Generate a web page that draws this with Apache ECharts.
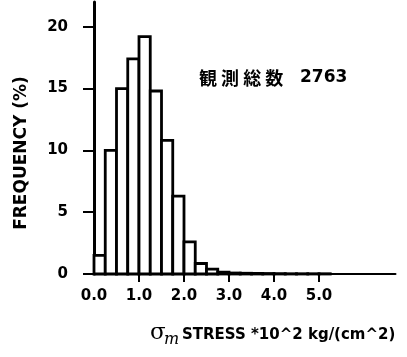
<!DOCTYPE html>
<html>
<head>
<meta charset="utf-8">
<script src="https://cdn.jsdelivr.net/npm/echarts@6/dist/echarts.min.js"></script>
<style>
html,body{margin:0;padding:0;background:#fff;}
#chart{width:407px;height:357px;}
</style>
</head>
<body>
<div id="chart"></div>
<script>
// Histogram bins (stress, *10^2 kg/cm^2)
const binStart = [0.00, 0.25, 0.50, 0.75, 1.00, 1.25, 1.50, 1.75, 2.00, 2.25, 2.50, 2.75, 3.00, 3.25, 3.50, 3.75, 4.00, 4.25, 4.50, 4.75, 5.00];
const binEnd   = [0.25, 0.50, 0.75, 1.00, 1.25, 1.50, 1.75, 2.00, 2.25, 2.50, 2.75, 3.00, 3.25, 3.50, 3.75, 4.00, 4.25, 4.50, 4.75, 5.00, 5.25];
// Frequency (%)
const frequency = [1.5, 10.0, 15.0, 17.4, 19.2, 14.8, 10.8, 6.3, 2.6, 0.85, 0.4, 0.15, 0.08, 0.06, 0.05, 0.04, 0.03, 0.02, 0.02, 0.02, 0.02];
// Tick labels
const xTickValues = [0, 1, 2, 3, 4, 5];
const xTickLabels = ['0.0', '1.0', '2.0', '3.0', '4.0', '5.0'];
const yTickValues = [0, 5, 10, 15, 20];
const yTickLabels = ['0', '5', '10', '15', '20'];
// Texts
const yTitle = 'FREQUENCY (%)';
const xTitleSymbol = 'σ';
const xTitleSub = 'm';
const xTitle = 'STRESS *10^2 kg/(cm^2)';
const annotationLabel = '観 測 総 数';
const annotationCount = '2763';

const data = binStart.map((s, i) => [s, binEnd[i], frequency[i]]);

const chart = echarts.init(document.getElementById('chart'), null, {renderer: 'canvas'});
const numFont = 'DejaVu Sans';

chart.setOption({
  backgroundColor: '#fff',
  animation: false,
  grid: {left: 94, right: 11.5, top: 2, bottom: 83, containLabel: false, outerBoundsMode: 'none'},
  xAxis: {
    type: 'value',
    min: 0,
    max: 6.7,
    splitLine: {show: false},
    axisLine: {show: true, onZero: false, lineStyle: {color: '#000', width: 2}},
    axisTick: {show: true, customValues: [1, 2, 3, 4, 5], length: 8, lineStyle: {color: '#000', width: 2}},
    axisLabel: {
      customValues: xTickValues,
      margin: 15,
      color: '#000',
      fontFamily: numFont,
      fontWeight: 'bold',
      fontSize: 15,
      formatter: v => xTickLabels[xTickValues.indexOf(v)]
    }
  },
  yAxis: {
    type: 'value',
    min: 0,
    max: 22,
    splitLine: {show: false},
    axisLine: {show: true, onZero: false, lineStyle: {color: '#000', width: 3}},
    axisTick: {show: true, customValues: yTickValues, length: 11, lineStyle: {color: '#000', width: 2}},
    axisLabel: {
      customValues: yTickValues,
      margin: 26,
      color: '#000',
      fontFamily: numFont,
      fontWeight: 'bold',
      fontSize: 15,
      formatter: v => yTickLabels[yTickValues.indexOf(v)]
    }
  },
  series: [{
    type: 'custom',
    data: data,
    encode: {x: [0, 1], y: 2},
    renderItem: function (params, api) {
      const p0 = api.coord([api.value(0), 0]);
      const p1 = api.coord([api.value(1), api.value(2)]);
      return {
        type: 'rect',
        shape: {x: p0[0], y: p1[1], width: p1[0] - p0[0], height: p0[1] - p1[1]},
        style: {fill: '#fff', stroke: '#000', lineWidth: 2.8}
      };
    }
  }],
  graphic: [
    {type: 'text', x: 22, y: 153, rotation: Math.PI / 2,
     style: {text: yTitle, fill: '#000', fontFamily: numFont, fontWeight: 'bold', fontSize: 17, align: 'center', verticalAlign: 'middle'}},
    {type: 'text', x: 199, y: 78,
     style: {text: annotationLabel, fill: '#000', fontFamily: 'Noto Sans CJK JP', fontWeight: 'bold', fontSize: 18, align: 'left', verticalAlign: 'middle'}},
    {type: 'text', x: 300, y: 78,
     style: {text: annotationCount, fill: '#000', fontFamily: numFont, fontWeight: 'bold', fontSize: 17, align: 'left', verticalAlign: 'middle'}},
    {type: 'text', x: 150, y: 333,
     style: {text: xTitleSymbol, fill: '#000', fontFamily: 'DejaVu Serif', fontSize: 23, align: 'left', verticalAlign: 'middle'}},
    {type: 'text', x: 164, y: 340,
     style: {text: xTitleSub, fill: '#000', fontFamily: 'DejaVu Serif', fontStyle: 'italic', fontSize: 16, align: 'left', verticalAlign: 'middle'}},
    {type: 'text', x: 182, y: 335,
     style: {text: xTitle, fill: '#000', fontFamily: numFont, fontWeight: 'bold', fontSize: 15, align: 'left', verticalAlign: 'middle'}}
  ]
});
</script>
</body>
</html>
